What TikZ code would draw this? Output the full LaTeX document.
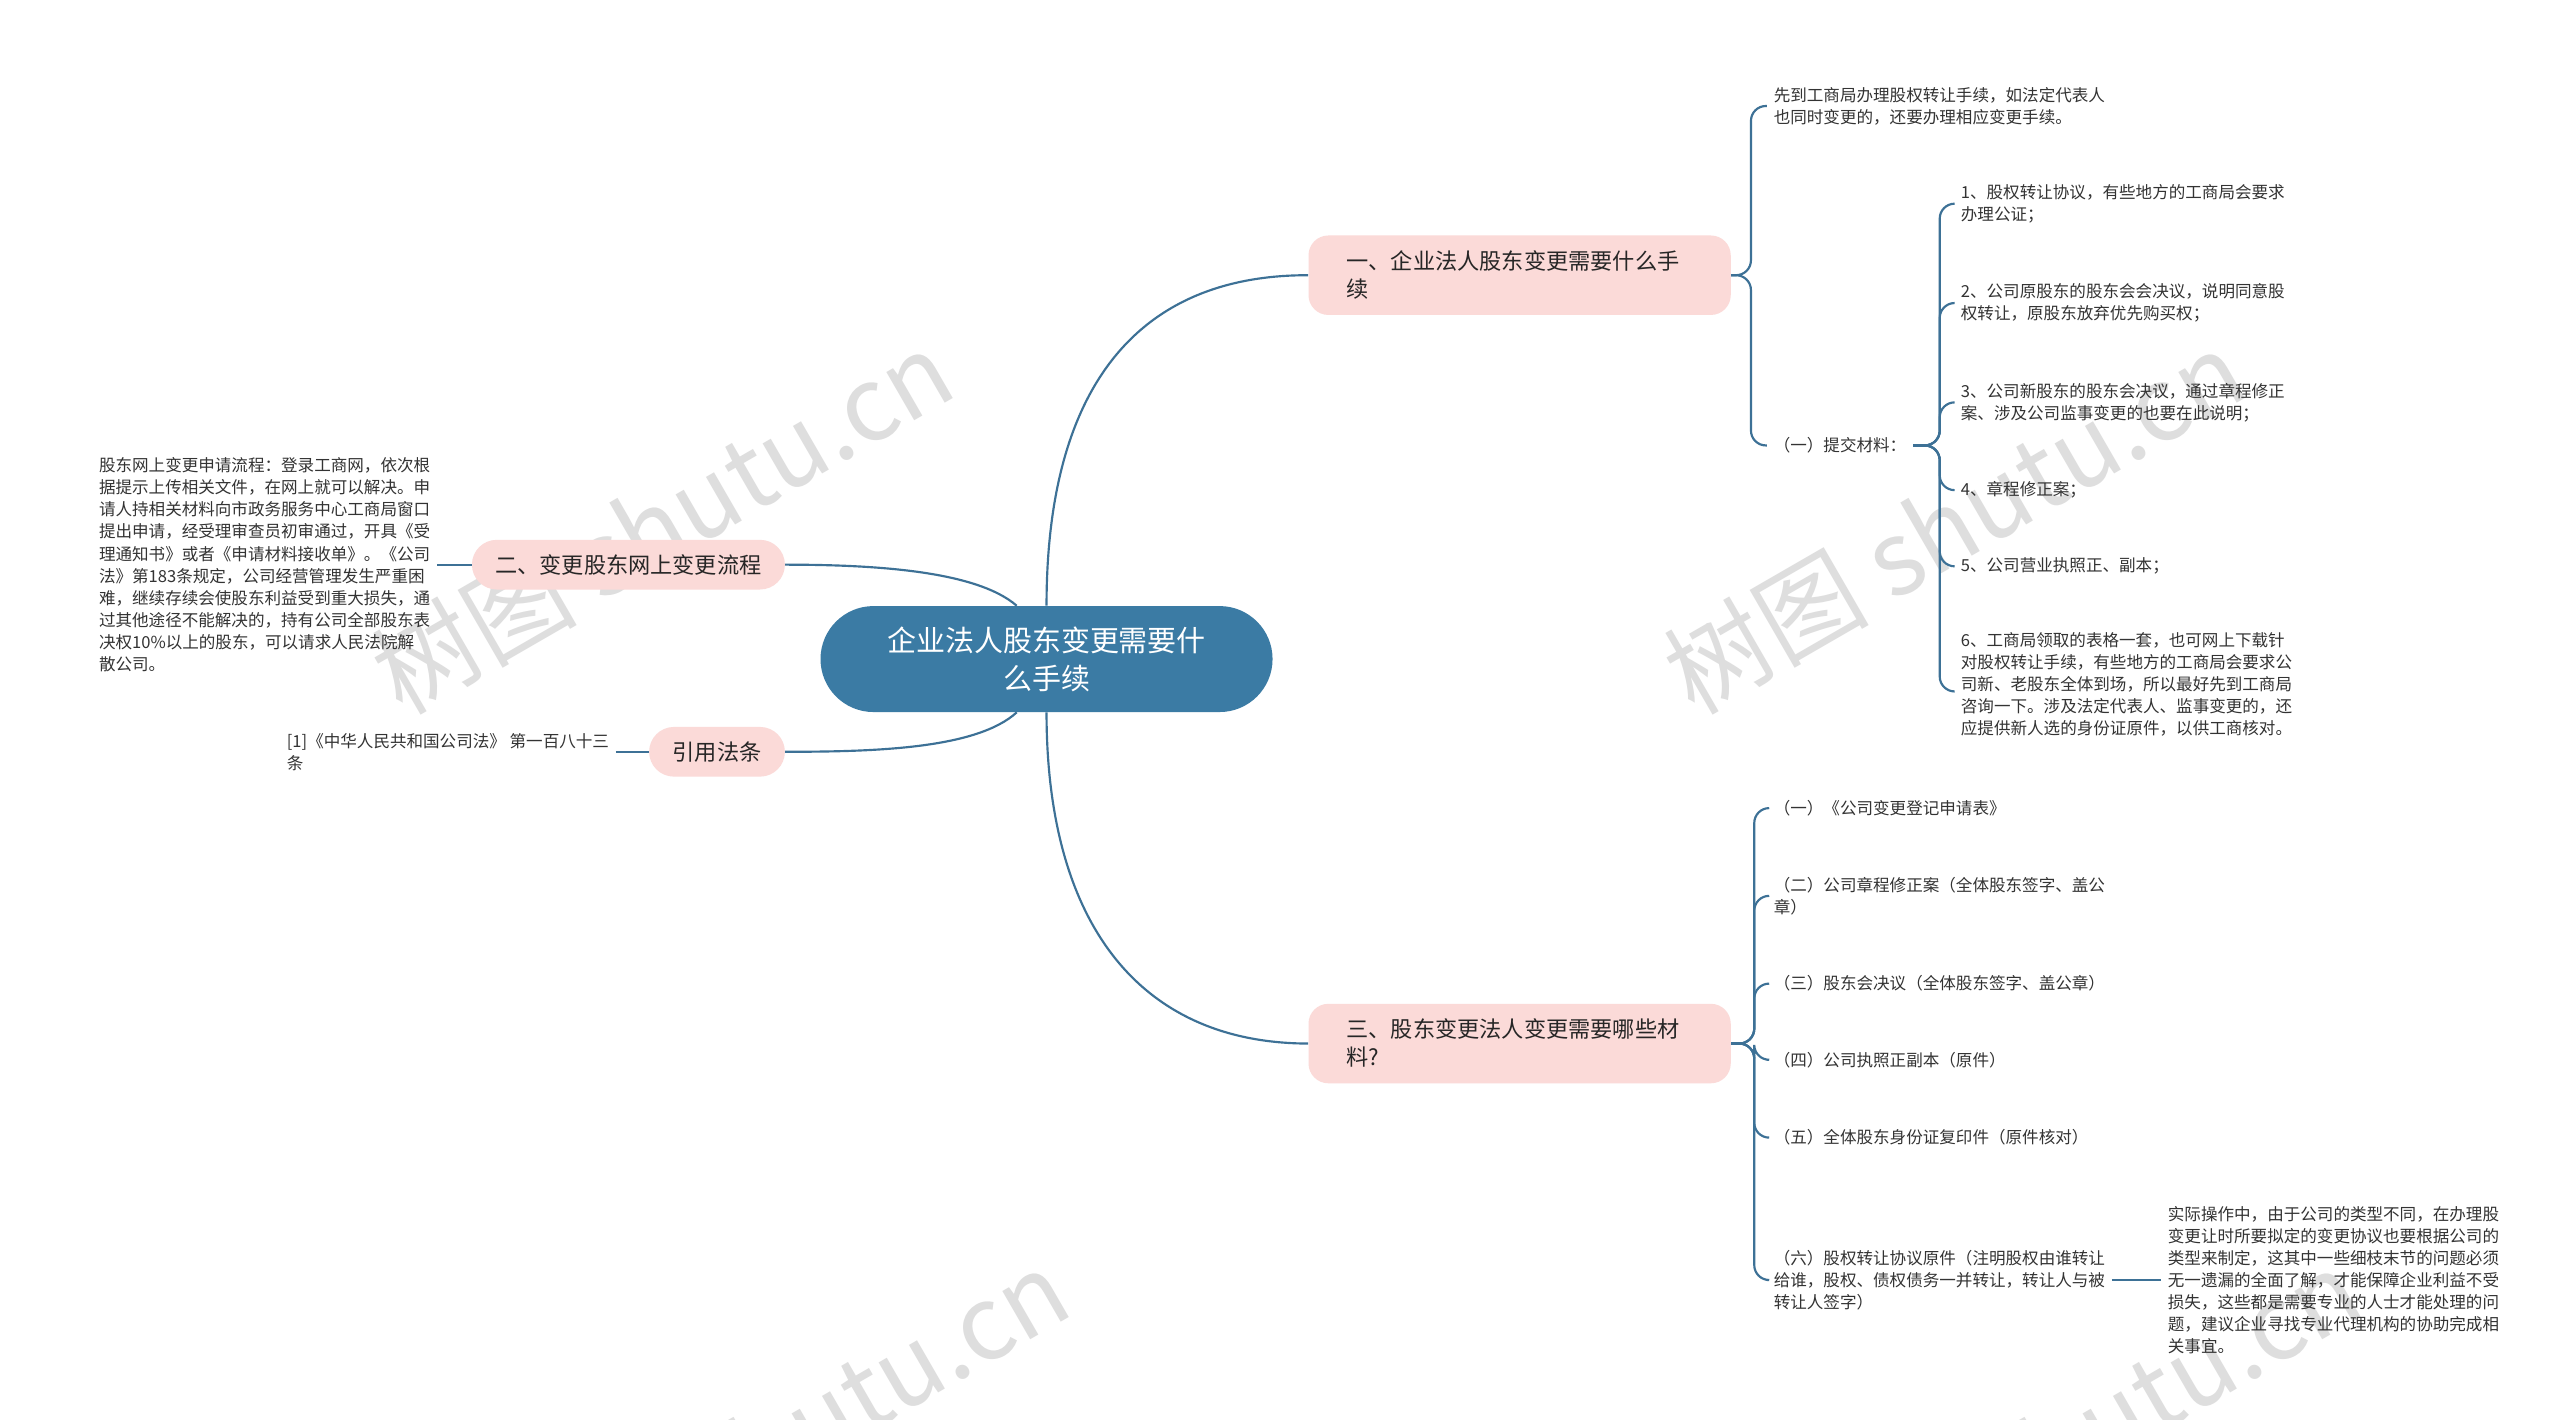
\documentclass[tikz,border=0pt]{standalone}
\usepackage{fontspec}
\setmainfont{Noto Sans CJK SC}
\begin{document}
\begin{tikzpicture}[x=1pt,y=-1pt,
  lk/.style={draw=linec,line width=1.3pt},
  sm/.style={font=\fontsize{10}{13.3}\selectfont,align=left,anchor=west,inner xsep=4pt,inner ysep=0pt,text=black!80},
  br/.style={fill=pinkf,rounded corners=12pt,font=\fontsize{13.4}{17}\selectfont,align=left,text=black!85,inner xsep=0pt,inner ysep=0pt,anchor=north west},
  wm/.style={text=black!13,font=\fontsize{62}{62}\selectfont,rotate=30}]
\definecolor{linec}{HTML}{3D7196}
\definecolor{pinkf}{HTML}{FBDAD8}
\definecolor{cblue}{HTML}{3B7BA4}
\useasboundingbox (0,0) rectangle (1546,857);
\fill[white] (0,0) rectangle (1546,857);
% watermarks
\node[wm] (w1) at (400,315) {树图 shutu.cn};
\node[wm] (w2) at (1180,315) {树图 shutu.cn};
\node[wm] (w3) at (470,870) {树图 shutu.cn};
\node[wm] (w4) at (1250,870) {树图 shutu.cn};
% center
\node[fill=cblue,rounded corners=32pt,minimum width=273pt,minimum height=64pt,text=white,font=\fontsize{17.5}{23}\selectfont,align=center] (c) at (632,398) {企业法人股东变更需要什\\么手续};
% branches
\node[br,minimum width=255pt,minimum height=48pt] (b1) at (790,142) {};
\node[font=\fontsize{13.4}{17}\selectfont,align=left,anchor=west,inner sep=0pt,text=black!85] (b1t) at (813,166) {一、企业法人股东变更需要什么手\\续};
\node[br,minimum width=255pt,minimum height=48pt] (b3) at (790,606) {};
\node[font=\fontsize{13.4}{17}\selectfont,align=left,anchor=west,inner sep=0pt,text=black!85] (b3t) at (813,630) {三、股东变更法人变更需要哪些材\\料?};
\node[fill=pinkf,rounded corners=15pt,minimum width=189pt,minimum height=30pt,font=\fontsize{13.4}{17}\selectfont,text=black!85] (b2) at (379.5,341) {二、变更股东网上变更流程};
\node[fill=pinkf,rounded corners=15pt,minimum width=82pt,minimum height=30pt,font=\fontsize{13.4}{17}\selectfont,text=black!85] (b4) at (433,454) {引用法条};
\draw[lk] ([xshift=0pt]c.north) .. controls (632,230) and (690,166) .. (b1.west);
\draw[lk] (c.south) .. controls (632,560) and (690,630) .. (b3.west);
\draw[lk] ([xshift=-18pt]c.north) .. controls (590,345) and (530,341) .. (b2.east);
\draw[lk] ([xshift=-18pt]c.south) .. controls (590,452) and (530,454) .. (b4.east);
% left leaves
\node[sm,anchor=east] (l1) at (264,341) {股东网上变更申请流程：登录工商网，依次根\\据提示上传相关文件，在网上就可以解决。申\\请人持相关材料向市政务服务中心工商局窗口\\提出申请，经受理审查员初审通过，开具《受\\理通知书》或者《申请材料接收单》。《公司\\法》第183条规定，公司经营管理发生严重困\\难，继续存续会使股东利益受到重大损失，通\\过其他途径不能解决的，持有公司全部股东表\\决权10\%以上的股东，可以请求人民法院解\\散公司。};
\draw[lk] (l1.east) -- (b2.west);
\node[sm,anchor=east] (l2) at (372,454) {[1]《中华人民共和国公司法》 第一百八十三\\条};
\draw[lk] (l2.east) -- (b4.west);
% branch 1 children
\node[sm] (a1) at (1067,64) {先到工商局办理股权转让手续，如法定代表人\\也同时变更的，还要办理相应变更手续。};
\node[sm] (a2) at (1067,269) {（一）提交材料：};
\foreach \n in {a1,a2} \draw[lk,rounded corners=9pt] (b1.east) -- ++(12,0) |- (\n.west);
\node[sm] (m1) at (1180,123) {1、股权转让协议，有些地方的工商局会要求\\办理公证；};
\node[sm] (m2) at (1180,183) {2、公司原股东的股东会会决议，说明同意股\\权转让，原股东放弃优先购买权；};
\node[sm] (m3) at (1180,243) {3、公司新股东的股东会决议，通过章程修正\\案、涉及公司监事变更的也要在此说明；};
\node[sm] (m4) at (1180,296) {4、章程修正案；};
\node[sm] (m5) at (1180,342) {5、公司营业执照正、副本；};
\node[sm,anchor=north west] (m6) at (1180,382) {6、工商局领取的表格一套，也可网上下载针\\对股权转让手续，有些地方的工商局会要求公\\司新、老股东全体到场，所以最好先到工商局\\咨询一下。涉及法定代表人、监事变更的，还\\应提供新人选的身份证原件，以供工商核对。};
\foreach \n in {m1,m2,m3,m4,m5} \draw[lk,rounded corners=9pt] (a2.east) -- ++(16,0) |- (\n.west);
\draw[lk,rounded corners=9pt] (a2.east) -- ++(16,0) |- ([yshift=-4pt]m6.west);
% branch 3 children
\node[sm] (d1) at (1067,488) {（一）《公司变更登记申请表》};
\node[sm] (d2) at (1067,541) {（二）公司章程修正案（全体股东签字、盖公\\章）};
\node[sm] (d3) at (1067,594) {（三）股东会决议（全体股东签字、盖公章）};
\node[sm] (d4) at (1067,640) {（四）公司执照正副本（原件）};
\node[sm] (d5) at (1067,687) {（五）全体股东身份证复印件（原件核对）};
\node[sm] (d6) at (1067,773) {（六）股权转让协议原件（注明股权由谁转让\\给谁，股权、债权债务一并转让，转让人与被\\转让人签字）};
\foreach \n in {d1,d2,d3,d4,d5,d6} \draw[lk,rounded corners=9pt] (b3.east) -- ++(14,0) |- (\n.west);
\node[sm] (e1) at (1305,773) {实际操作中，由于公司的类型不同，在办理股\\变更让时所要拟定的变更协议也要根据公司的\\类型来制定，这其中一些细枝末节的问题必须\\无一遗漏的全面了解，才能保障企业利益不受\\损失，这些都是需要专业的人士才能处理的问\\题，建议企业寻找专业代理机构的协助完成相\\关事宜。};
\draw[lk] (d6.east) -- (e1.west);
\end{tikzpicture}
\end{document}
